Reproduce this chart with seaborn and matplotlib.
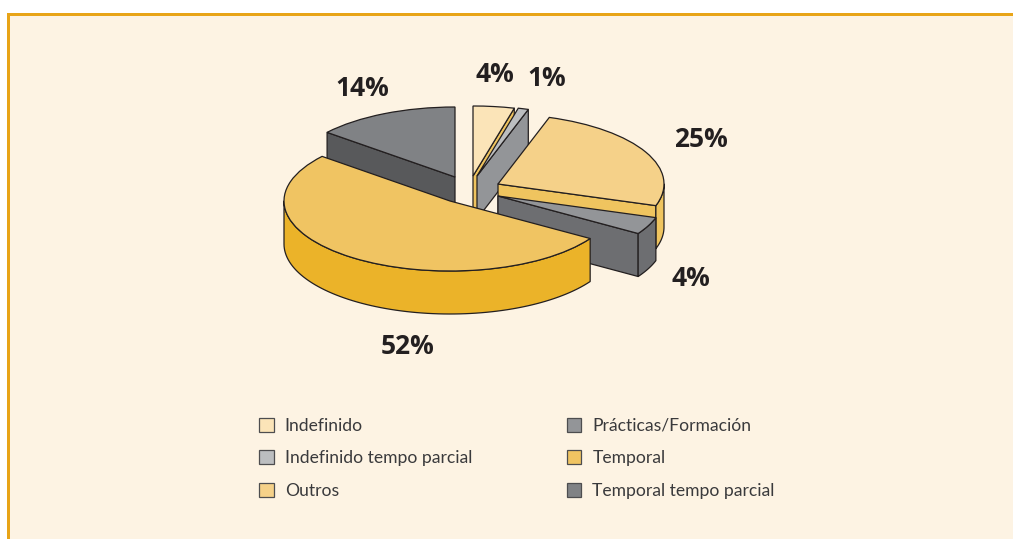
import numpy as np
import matplotlib
matplotlib.use('Agg')
import matplotlib.pyplot as plt
from matplotlib.patches import Polygon, Rectangle, Patch
import seaborn as sns

# dados
categorias = ['Indefinido', 'Indefinido tempo parcial', 'Outros',
              'Prácticas/Formación', 'Temporal', 'Temporal tempo parcial']
valores = [4, 1, 25, 4, 52, 14]
rotulos = ['4%', '1%', '25%', '4%', '52%', '14%']

# cores
cor_topo = ['#FBE4B8', '#BCBEC0', '#F5D189', '#939598', '#F0C462', '#808285']
cor_lado = ['#EFC45F', '#939598', '#EFC45F', '#6D6E71', '#EBB329', '#58595B']
cor_legenda = ['#FBE4B8', '#BCBEC0', '#F5D189', '#939598', '#F0C462', '#808285']
fundo = '#FDF3E3'
borda = '#E8A417'
linha = '#231F20'

# geometria em pixels
W, H = 1013, 539
RX, RY, ALTURA = 166, 70, 43
centros = [(473, 176), (477, 176), (498, 184), (498, 196), (450, 201), (455, 177)]
pos_rotulos = [(495, 75), (547, 79), (701, 140), (691, 278), (408, 346), (362, 89)]
ordem = [5, 0, 1, 2, 3, 4]  # de tras para a frente

k = RY / RX


def py(y):
    return (H - y) / k


sns.set_theme(style='white')
plt.rcParams['font.family'] = ['Open Sans', 'DejaVu Sans']

fig = plt.figure(figsize=(W / 100, H / 100), dpi=100, facecolor='white')
fig.add_artist(Rectangle((8 / W, 0), 1, 1 - 14 / H, transform=fig.transFigure, fc=fundo, ec='none', zorder=-5))
ax = fig.add_axes([0, 0, 1, 1])
ax.patch.set_alpha(0)

wedges, _ = ax.pie(valores, startangle=90, counterclock=False, radius=RX, colors=cor_topo,
                   wedgeprops={'edgecolor': linha, 'linewidth': 0.9})
ax.set_aspect('auto')
ax.set_xlim(0, W)
ax.set_ylim(0, H / k)

# angulos a partir dos valores
acum = np.cumsum([0] + valores)
ang1 = 90 - 3.6 * acum[:-1]
ang2 = 90 - 3.6 * acum[1:]
dz = ALTURA / k

for rank, i in enumerate(ordem):
    cx, cy = centros[i][0], py(centros[i][1])
    wedges[i].set_center((cx, cy))
    wedges[i].set_zorder(10 + 2 * rank + 1)
    estilo = dict(fc=cor_lado[i], ec=linha, lw=0.9, joinstyle='round', zorder=10 + 2 * rank)
    # faces de corte visiveis
    for a, n in ((ang1[i], ang1[i] + 90), (ang2[i], ang2[i] - 90)):
        if np.sin(np.radians(n)) < -1e-6:
            px_, py_ = cx + RX * np.cos(np.radians(a)), cy + RX * np.sin(np.radians(a))
            ax.add_patch(Polygon([(cx, cy), (px_, py_), (px_, py_ - dz), (cx, cy - dz)], **estilo))
    # parede exterior (so a parte da frente)
    a1, a2 = ang1[i], ang2[i]
    ini = min(a1, 0)
    fim = max(a2, -180)
    if ini > fim:
        t = np.radians(np.linspace(ini, fim, 80))
        x = cx + RX * np.cos(t)
        y = cy + RX * np.sin(t)
        ax.add_patch(Polygon(np.vstack([np.c_[x, y], np.c_[x[::-1], y[::-1] - dz]]), **estilo))

# rotulos
for txt, (x, y) in zip(rotulos, pos_rotulos):
    ax.text(x, py(y), txt, fontsize=19, fontweight='bold', color=linha,
            ha='center', va='center', zorder=30)

# linhas do enquadramento
fig.add_artist(Rectangle((7 / W, 1 - 16 / H), 1, 3 / H, transform=fig.transFigure, fc=borda, ec='none'))
fig.add_artist(Rectangle((7 / W, 0), 3 / W, 1 - 13 / H, transform=fig.transFigure, fc=borda, ec='none'))

# legenda
handles = [Patch(fc=c, ec='#4D4D4F', lw=0.9) for c in cor_legenda]
leg = fig.legend(handles, categorias, ncol=2, frameon=False, loc='upper left',
                 bbox_to_anchor=(243 / W, 1 - 402 / H),
                 labelcolor='#3A3A3C', handlelength=0.85, handleheight=0.85, handletextpad=0.63,
                 labelspacing=0.95, columnspacing=5.4,
                 prop={'family': ['Lato', 'DejaVu Sans'], 'size': 12.6})

fig.savefig('out.png', dpi=100)
